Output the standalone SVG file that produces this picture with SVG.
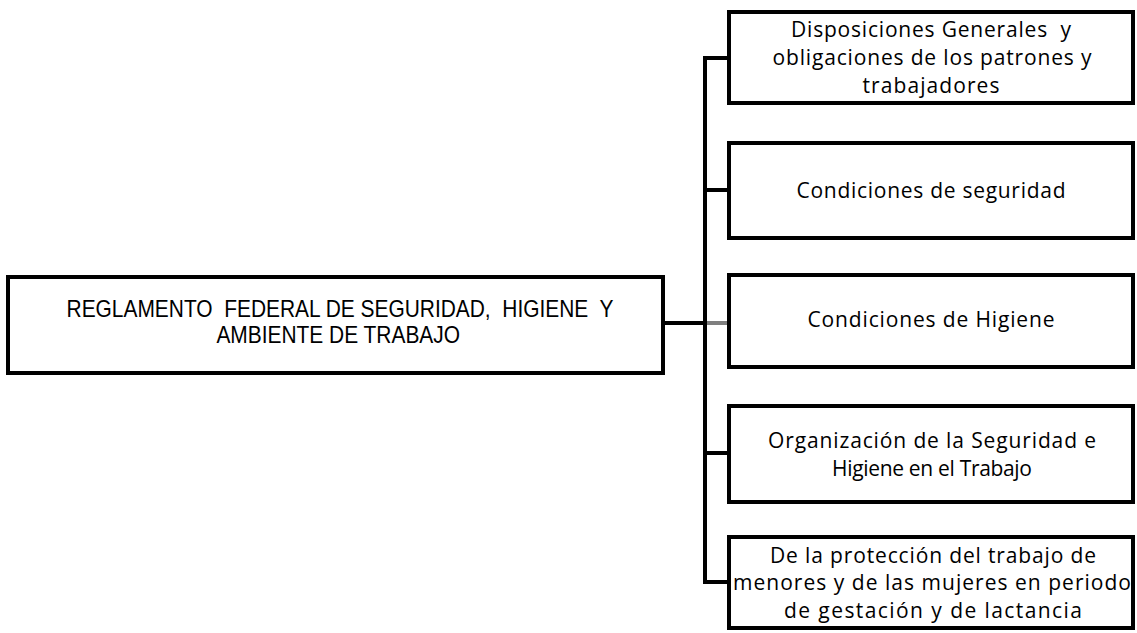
<svg xmlns="http://www.w3.org/2000/svg" width="1137" height="633" viewBox="0 0 1137 633">
<style>
.box{fill:#fff;stroke:#000;stroke-width:4}
.ln{stroke:#000;stroke-width:4;fill:none}
.t{font-family:"Open Sans","Liberation Sans",sans-serif;font-size:21px;fill:#000;text-anchor:middle}
.m{font-family:"Liberation Sans",sans-serif;font-size:23px;fill:#000;text-anchor:middle}
</style>
<rect width="1137" height="633" fill="#fff"/>
<g id="connectors">
<line class="ln" x1="705" y1="58" x2="705" y2="584"/>
<line class="ln" x1="663" y1="323" x2="705" y2="323"/>
<line class="ln" x1="703" y1="58" x2="728" y2="58"/>
<line class="ln" x1="703" y1="190" x2="728" y2="190"/>
<line x1="707" y1="323" x2="728" y2="323" stroke="#7f7f7f" stroke-width="4"/>
<line class="ln" x1="703" y1="453" x2="728" y2="453"/>
<line class="ln" x1="703" y1="582" x2="728" y2="582"/>
</g>
<g id="main">
<rect class="box" x="8" y="277" width="655" height="96"/>
<g transform="translate(340,0) scale(0.91,1)">
<text class="m" x="0" y="317" xml:space="preserve">REGLAMENTO  FEDERAL DE SEGURIDAD,  HIGIENE  Y</text>
<text class="m" x="-2" y="343">AMBIENTE DE TRABAJO</text>
</g>
</g>
<g id="n1">
<rect class="box" x="729" y="12" width="404" height="91"/>
<text class="t" x="931" y="37" textLength="280" lengthAdjust="spacing" xml:space="preserve">Disposiciones Generales  y</text>
<text class="t" x="932" y="65" textLength="319" lengthAdjust="spacing">obligaciones de los patrones y</text>
<text class="t" x="931" y="93" textLength="137" lengthAdjust="spacing">trabajadores</text>
</g>
<g id="n2">
<rect class="box" x="729" y="143" width="404" height="95"/>
<text class="t" x="931" y="198" textLength="269" lengthAdjust="spacing">Condiciones de seguridad</text>
</g>
<g id="n3">
<rect class="box" x="729" y="275" width="404" height="92"/>
<text class="t" x="931" y="327" textLength="247" lengthAdjust="spacing">Condiciones de Higiene</text>
</g>
<g id="n4">
<rect class="box" x="729" y="406" width="404" height="96"/>
<text class="t" x="932" y="448" textLength="328" lengthAdjust="spacing">Organización de la Seguridad e</text>
<text class="t" x="932" y="476" textLength="200" lengthAdjust="spacing">Higiene en el Trabajo</text>
</g>
<g id="n5">
<rect class="box" x="729" y="537" width="404" height="91"/>
<text class="t" x="933" y="563" textLength="326" lengthAdjust="spacing">De la protección del trabajo de</text>
<text class="t" x="932" y="590" textLength="398" lengthAdjust="spacing">menores y de las mujeres en periodo</text>
<text class="t" x="933" y="618" textLength="298" lengthAdjust="spacing">de gestación y de lactancia</text>
</g>
</svg>
